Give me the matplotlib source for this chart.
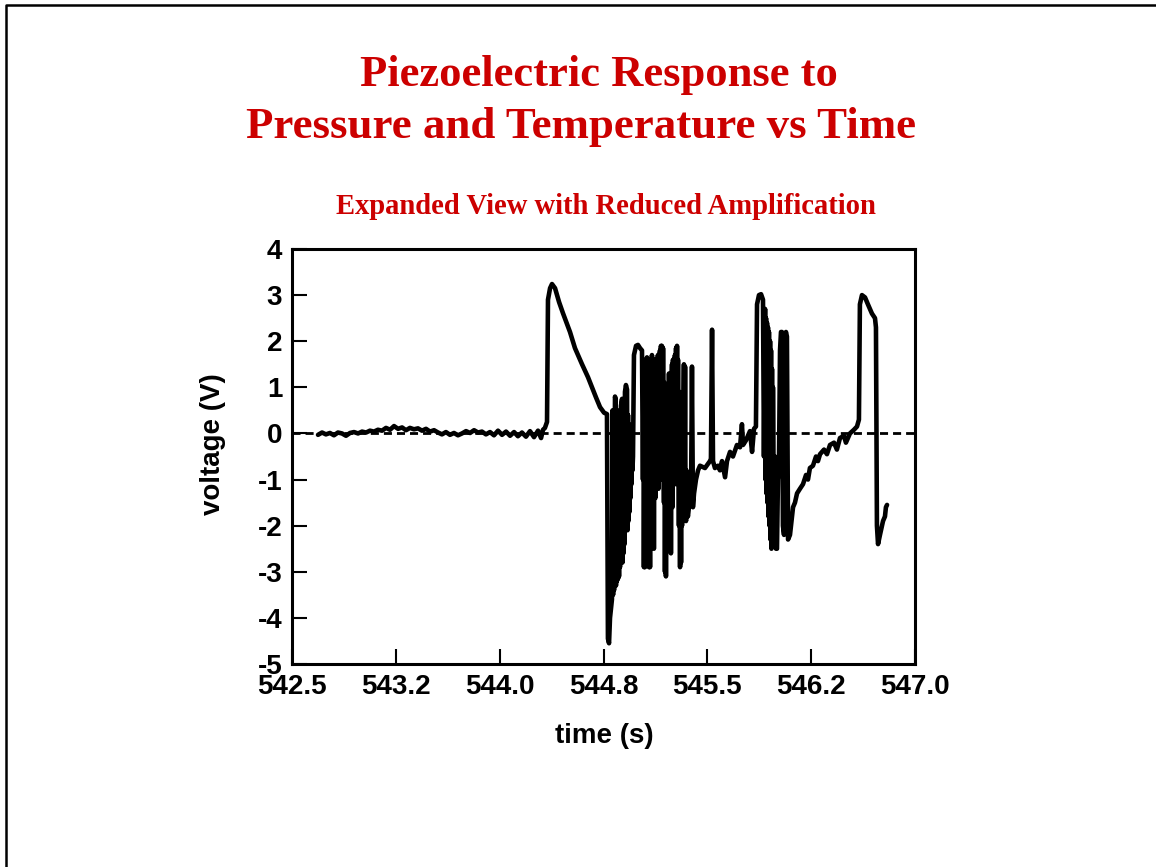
import matplotlib
matplotlib.use("Agg")
import matplotlib.pyplot as plt
from matplotlib.lines import Line2D

# ---- data (time in s, voltage in V) ----
time_s = [
    # quiet baseline
    542.688, 542.717, 542.745, 542.774, 542.803, 542.832, 542.861, 542.890,
    542.919, 542.948, 542.977, 543.006, 543.035, 543.063, 543.092, 543.121,
    543.150, 543.179, 543.208, 543.237, 543.266, 543.295, 543.323, 543.352,
    543.381, 543.410, 543.439, 543.468, 543.497, 543.526, 543.555, 543.583,
    543.612, 543.641, 543.670, 543.699, 543.728, 543.757, 543.786, 543.815,
    543.844, 543.872, 543.901, 543.930, 543.959, 543.988, 544.017, 544.046,
    544.075, 544.104, 544.132, 544.161, 544.190, 544.219, 544.248, 544.277,
    544.299, 544.313, 544.327,
    # first pulse and decay
    544.342, 544.349, 544.364, 544.378, 544.400,
    544.429, 544.457, 544.508, 544.544, 544.595, 544.638, 544.667, 544.696,
    544.725, 544.754, 544.775, 544.782, 544.790, 544.797,
    # wedge of fast oscillations
    544.811, 544.815, 544.819, 544.822, 544.826, 544.833, 544.837, 544.840,
    544.844, 544.847, 544.851, 544.855, 544.858, 544.862, 544.866, 544.869,
    544.876, 544.884, 544.887, 544.891, 544.894, 544.898, 544.902, 544.905,
    544.912, 544.920, 544.923, 544.927, 544.930, 544.934, 544.938, 544.941,
    544.945, 544.949, 544.952, 544.956, 544.959, 544.963,
    544.970, 544.985, 544.999, 545.014, 545.028,
    # dense burst
    545.035, 545.039, 545.042, 545.046, 545.050, 545.053, 545.057, 545.060,
    545.064, 545.068, 545.071, 545.075, 545.078, 545.082, 545.086, 545.089,
    545.093, 545.096, 545.100, 545.104, 545.107, 545.111, 545.114, 545.118,
    545.122, 545.125, 545.129, 545.133, 545.136, 545.140, 545.143, 545.147,
    545.151, 545.154, 545.158, 545.161, 545.165, 545.169, 545.172, 545.176,
    545.180, 545.183, 545.187, 545.190, 545.194, 545.198, 545.201, 545.205,
    545.209, 545.212, 545.216, 545.219, 545.223, 545.227, 545.230, 545.234,
    545.237, 545.241, 545.245, 545.248, 545.252, 545.256, 545.259, 545.263,
    545.266, 545.270, 545.274, 545.277, 545.281, 545.284, 545.288, 545.292,
    545.295, 545.299, 545.303, 545.306, 545.310, 545.313, 545.317, 545.321,
    545.324, 545.328, 545.331, 545.335, 545.339, 545.342, 545.346, 545.349,
    545.353, 545.360, 545.367, 545.375, 545.382, 545.389, 545.396, 545.404,
    545.418, 545.433, 545.447,
    # recovery with spike
    545.483, 545.519, 545.526, 545.534,
    545.541, 545.555, 545.577, 545.591, 545.606, 545.628, 545.642, 545.664,
    545.685, 545.714, 545.736, 545.750, 545.758, 545.779, 545.808, 545.823,
    545.837, 545.851,
    # second pulse and burst
    545.859, 545.873, 545.888, 545.902, 545.909, 545.917, 545.920, 545.924,
    545.927, 545.931, 545.934, 545.938, 545.942, 545.945, 545.949, 545.953,
    545.956, 545.960, 545.963, 545.967, 545.971, 545.974, 545.981,
    545.989, 545.996, 546.003, 546.010, 546.017, 546.025, 546.032, 546.039,
    546.046, 546.054, 546.061, 546.068, 546.075, 546.083, 546.090, 546.097,
    # recovery
    546.119, 546.133, 546.148, 546.169, 546.191, 546.213, 546.227, 546.241,
    546.263, 546.285, 546.299, 546.314, 546.343, 546.364, 546.386, 546.415,
    546.436, 546.458, 546.487, 546.501, 546.530, 546.559, 546.581, 546.595,
    # third pulse
    546.602, 546.617, 546.639, 546.660, 546.689, 546.711, 546.718, 546.725,
    546.733, 546.747, 546.769, 546.783, 546.790, 546.798,
]
voltage_v = [
    # quiet baseline
    -0.03, 0.02, -0.02, 0.01, -0.04, 0.02, 0.00, -0.05,
    0.01, 0.03, 0.00, 0.04, 0.02, 0.06, 0.04, 0.08,
    0.06, 0.12, 0.08, 0.16, 0.10, 0.13, 0.07, 0.12,
    0.09, 0.11, 0.06, 0.10, 0.04, 0.07, 0.02, -0.02,
    0.03, -0.03, 0.01, -0.04, 0.00, 0.05, 0.01, 0.07,
    0.02, 0.04, -0.02, 0.03, -0.04, 0.06, -0.03, 0.04,
    -0.05, 0.03, -0.06, 0.02, -0.07, 0.05, -0.08, 0.06,
    -0.10, 0.08, 0.12,
    # first pulse and decay
    0.25, 2.90, 3.15, 3.24, 3.15,
    2.85, 2.61, 2.20, 1.85, 1.50, 1.22, 1.00, 0.78,
    0.57, 0.45, 0.42, -4.45, -4.55, -4.00,
    # wedge of fast oscillations
    -3.60, 0.50, -3.50, 0.30, -3.40, 0.80, 0.75, -3.30,
    0.20, -3.20, 0.40, -3.15, 0.10, -3.10, 0.50, -2.90,
    0.60, 0.75, -2.80, 0.30, -2.60, 0.50, -2.40, 0.90,
    1.05, 0.95, -2.10, 0.40, -1.90, 0.20, -1.70, 0.00,
    -1.40, -0.20, -1.10, -0.30, -0.80, -0.50,
    1.70, 1.90, 1.92, 1.85, 1.80,
    # dense burst
    -1.00, 1.20, -2.90, 0.80, -2.90, 1.40, 1.60, -1.30,
    1.65, -1.00, -2.00, 1.00, -2.90, 0.60, -2.90, 1.30,
    1.50, -1.20, 1.70, -0.80, -1.50, 1.20, -2.50, 1.40,
    1.60, -1.40, 1.50, -0.90, -1.00, 1.50, 1.70, -1.20,
    -0.50, 1.60, 1.80, -0.90, 1.90, -1.00, 1.90, -0.60,
    1.85, 0.50, -1.50, 1.10, -3.00, 0.30, -3.10, 0.80,
    -2.50, 0.20, 1.00, -1.80, 1.30, -0.90, -2.00, 1.10,
    -2.60, 0.90, 1.50, -1.60, 1.60, -0.70, -1.00, 1.40,
    1.70, -1.10, 1.85, -0.80, 1.90, -0.50, 1.60, -0.20,
    -2.00, 0.90, -2.90, 0.40, -2.80, 0.20, -2.00, -0.30,
    -1.90, 0.60, 1.50, -1.70, 1.45, -1.20, -1.90, -0.80,
    -1.70, -1.80, -1.60, -1.30, -1.50, 1.45, -1.60, -1.30,
    -1.00, -0.80, -0.70,
    # recovery with spike
    -0.75, -0.60, -0.55, 2.25,
    -0.60, -0.75, -0.70, -0.80, -0.60, -0.95, -0.60, -0.40,
    -0.50, -0.25, -0.30, 0.20, -0.25, -0.15, 0.05, -0.40,
    0.10, 0.15,
    # second pulse and burst
    2.80, 3.00, 3.02, 2.90, -0.50, 2.70, -1.00, 2.50,
    -1.30, 2.40, -1.50, 2.30, -1.80, 2.20, -2.00, 2.00,
    -2.30, 1.80, -2.50, 1.40, -2.40, 1.00, -2.40,
    -0.50, -2.50, -2.50, -1.00, -0.80, 1.80, 2.20, 2.20,
    -2.00, -2.20, 2.10, 2.20, 2.10, -2.30, -2.25, -2.20,
    # recovery
    -1.60, -1.50, -1.30, -1.20, -1.10, -0.90, -1.00, -0.75,
    -0.70, -0.50, -0.60, -0.45, -0.35, -0.45, -0.25, -0.20,
    -0.35, -0.10, -0.05, -0.20, 0.00, 0.08, 0.15, 0.30,
    # third pulse
    2.80, 3.00, 2.95, 2.80, 2.60, 2.50, 2.30, -2.00,
    -2.40, -2.20, -1.90, -1.80, -1.60, -1.55,
]

x_ticks = [542.5, 543.25, 544.0, 544.75, 545.5, 546.25, 547.0]
x_tick_labels = ["542.5", "543.2", "544.0", "544.8", "545.5", "546.2", "547.0"]
y_ticks = [-5, -4, -3, -2, -1, 0, 1, 2, 3, 4]
y_tick_labels = ["-5", "-4", "-3", "-2", "-1", "0", "1", "2", "3", "4"]

title_line1 = "Piezoelectric Response to"
title_line2 = "Pressure and Temperature vs Time"
subtitle = "Expanded View with Reduced Amplification"
x_label = "time (s)"
y_label = "voltage (V)"

RED = "#CC0000"
SANS = ["Liberation Sans", "Arial", "DejaVu Sans"]
SERIF = ["Liberation Serif", "Times New Roman", "DejaVu Serif"]

fig = plt.figure(figsize=(11.56, 8.67), dpi=100)
fig.patch.set_facecolor("white")

# outer frame (left and top edges visible)
fig.add_artist(Line2D([6 / 1156, 6 / 1156, 1.01], [-0.01, 1 - 5 / 867, 1 - 5 / 867],
                      transform=fig.transFigure, color="black", lw=1.8))

ax = fig.add_axes([292 / 1156, 1 - 664 / 867, 623 / 1156, 415 / 867])

ax.axhline(0, color="black", lw=2.0, ls=(0, (2.9, 1.8)), zorder=1)
ax.plot(time_s, voltage_v, color="black", lw=3.3, solid_joinstyle="round",
        solid_capstyle="round", zorder=2)

ax.set_xlim(542.5, 547.0)
ax.set_ylim(-5, 4)
ax.set_xticks(x_ticks)
ax.set_xticklabels(x_tick_labels)
ax.set_yticks(y_ticks)
ax.set_yticklabels(y_tick_labels)

for sp in ax.spines.values():
    sp.set_linewidth(2.2)
ax.tick_params(axis="both", direction="in", length=11, width=1.5,
               labelsize=20, top=False, right=False)
ax.tick_params(axis="x", pad=7)
ax.tick_params(axis="y", pad=7)
for lab in ax.get_xticklabels() + ax.get_yticklabels():
    lab.set_fontfamily(SANS)
    lab.set_fontweight("bold")

ax.set_xlabel(x_label, fontsize=20, fontweight="bold", family=SANS)
ax.set_ylabel(y_label, fontsize=20, fontweight="bold", family=SANS)
ax.xaxis.set_label_coords(0.502, -0.1735)
ax.xaxis.label.set_va("center")
ax.yaxis.set_label_coords(-0.1268, 0.53)
ax.yaxis.label.set_va("center")

fig.text(599 / 1156, 1 - 86 / 867, title_line1, ha="center", va="baseline",
         color=RED, fontsize=32, fontweight="bold", family=SERIF)
fig.text(581.5 / 1156, 1 - 138 / 867, title_line2, ha="center", va="baseline",
         color=RED, fontsize=32.3, fontweight="bold", family=SERIF)
fig.text(605.5 / 1156, 1 - 214 / 867, subtitle, ha="center", va="baseline",
         color=RED, fontsize=20.6, fontweight="bold", family=SERIF)

fig.savefig("out.png", dpi=100, facecolor="white")
